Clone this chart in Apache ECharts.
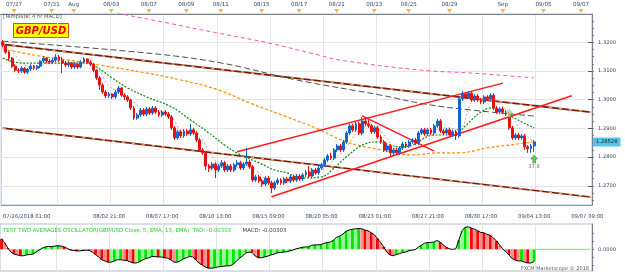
<!DOCTYPE html>
<html>
<head>
<meta charset="utf-8">
<script src="https://cdn.jsdelivr.net/npm/echarts@6/dist/echarts.min.js"></script>
<style>
  html, body { margin: 0; padding: 0; background: #fff; }
  #chart { width: 625px; height: 272px; }
</style>
</head>
<body>
<div id="chart"></div>
<script>
// GBP/USD 4h bars, [open, close, low, high]
var candles = [
  [1.3201,1.3190,1.3183,1.3208],[1.3190,1.3166,1.3159,1.3194],[1.3166,1.3145,1.3135,1.3170],[1.3145,1.3117,1.3110,1.3149],
  [1.3117,1.3103,1.3096,1.3124],[1.3103,1.3100,1.3093,1.3110],[1.3100,1.3110,1.3093,1.3117],[1.3110,1.3096,1.3090,1.3114],
  [1.3096,1.3107,1.3090,1.3110],[1.3107,1.3117,1.3100,1.3124],[1.3117,1.3110,1.3103,1.3121],[1.3110,1.3117,1.3103,1.3121],
  [1.3117,1.3135,1.3110,1.3138],[1.3135,1.3145,1.3128,1.3152],[1.3145,1.3135,1.3128,1.3149],[1.3135,1.3131,1.3124,1.3142],
  [1.3131,1.3138,1.3124,1.3145],[1.3138,1.3149,1.3131,1.3159],[1.3149,1.3138,1.3131,1.3156],[1.3138,1.3128,1.3093,1.3149],
  [1.3128,1.3121,1.3114,1.3135],[1.3121,1.3128,1.3114,1.3135],[1.3128,1.3114,1.3107,1.3131],[1.3114,1.3124,1.3107,1.3131],
  [1.3124,1.3114,1.3107,1.3128],[1.3114,1.3131,1.3110,1.3138],[1.3131,1.3142,1.3128,1.3149],[1.3142,1.3131,1.3124,1.3145],
  [1.3131,1.3124,1.3117,1.3138],[1.3124,1.3103,1.3096,1.3128],[1.3103,1.3076,1.3069,1.3107],[1.3076,1.3051,1.3034,1.3083],
  [1.3051,1.3027,1.3020,1.3058],[1.3027,1.3013,1.3006,1.3034],[1.3013,1.3020,1.3006,1.3027],[1.3020,1.3010,1.3003,1.3023],
  [1.3010,1.3027,1.3003,1.3034],[1.3027,1.3041,1.3020,1.3048],[1.3041,1.3016,1.3010,1.3044],[1.3016,1.3010,1.2999,1.3023],
  [1.3010,1.2999,1.2992,1.3016],[1.2999,1.2971,1.2964,1.3003],[1.2971,1.2936,1.2930,1.2978],[1.2936,1.2947,1.2930,1.2954],
  [1.2947,1.2964,1.2940,1.2971],[1.2964,1.2950,1.2943,1.2971],[1.2950,1.2968,1.2943,1.2975],[1.2968,1.2954,1.2947,1.2975],
  [1.2954,1.2971,1.2947,1.2978],[1.2971,1.2957,1.2950,1.2978],[1.2957,1.2947,1.2940,1.2964],[1.2947,1.2957,1.2940,1.2964],
  [1.2957,1.2950,1.2943,1.2964],[1.2950,1.2940,1.2933,1.2957],[1.2940,1.2902,1.2895,1.2947],[1.2902,1.2867,1.2860,1.2909],
  [1.2867,1.2888,1.2860,1.2895],[1.2888,1.2874,1.2867,1.2895],[1.2874,1.2891,1.2867,1.2898],[1.2891,1.2881,1.2874,1.2898],
  [1.2881,1.2895,1.2874,1.2916],[1.2895,1.2884,1.2877,1.2902],[1.2884,1.2860,1.2853,1.2891],[1.2860,1.2825,1.2818,1.2867],
  [1.2825,1.2815,1.2808,1.2832],[1.2815,1.2769,1.2755,1.2822],[1.2769,1.2762,1.2748,1.2776],[1.2762,1.2776,1.2755,1.2783],
  [1.2776,1.2755,1.2727,1.2783],[1.2755,1.2769,1.2748,1.2776],[1.2769,1.2780,1.2762,1.2790],[1.2780,1.2755,1.2748,1.2787],
  [1.2755,1.2769,1.2748,1.2776],[1.2769,1.2755,1.2748,1.2776],[1.2755,1.2773,1.2748,1.2780],[1.2773,1.2780,1.2766,1.2790],
  [1.2780,1.2762,1.2755,1.2787],[1.2762,1.2776,1.2755,1.2783],[1.2776,1.2783,1.2769,1.2832],[1.2783,1.2766,1.2759,1.2790],
  [1.2766,1.2720,1.2713,1.2773],[1.2720,1.2731,1.2713,1.2738],[1.2731,1.2717,1.2710,1.2738],[1.2717,1.2706,1.2696,1.2724],
  [1.2706,1.2727,1.2699,1.2734],[1.2727,1.2710,1.2703,1.2734],[1.2710,1.2692,1.2675,1.2717],[1.2692,1.2710,1.2685,1.2717],
  [1.2710,1.2720,1.2703,1.2727],[1.2720,1.2710,1.2703,1.2727],[1.2710,1.2724,1.2703,1.2731],[1.2724,1.2717,1.2710,1.2731],
  [1.2717,1.2731,1.2710,1.2738],[1.2731,1.2720,1.2713,1.2738],[1.2720,1.2734,1.2713,1.2741],[1.2734,1.2724,1.2717,1.2741],
  [1.2724,1.2738,1.2717,1.2745],[1.2738,1.2748,1.2731,1.2755],[1.2748,1.2734,1.2727,1.2769],[1.2734,1.2755,1.2727,1.2762],
  [1.2755,1.2745,1.2738,1.2762],[1.2745,1.2762,1.2738,1.2773],[1.2762,1.2773,1.2755,1.2780],[1.2773,1.2790,1.2766,1.2797],
  [1.2790,1.2804,1.2783,1.2811],[1.2804,1.2797,1.2790,1.2815],[1.2797,1.2825,1.2790,1.2832],[1.2825,1.2839,1.2818,1.2846],
  [1.2839,1.2825,1.2818,1.2846],[1.2825,1.2853,1.2818,1.2860],[1.2853,1.2884,1.2846,1.2891],[1.2884,1.2909,1.2877,1.2916],
  [1.2909,1.2895,1.2888,1.2916],[1.2895,1.2916,1.2888,1.2923],[1.2916,1.2884,1.2877,1.2923],[1.2884,1.2926,1.2877,1.2940],
  [1.2926,1.2916,1.2909,1.2936],[1.2916,1.2909,1.2902,1.2930],[1.2909,1.2888,1.2881,1.2916],[1.2888,1.2902,1.2881,1.2909],
  [1.2902,1.2870,1.2863,1.2909],[1.2870,1.2853,1.2846,1.2877],[1.2853,1.2825,1.2818,1.2860],[1.2825,1.2839,1.2818,1.2846],
  [1.2839,1.2815,1.2804,1.2846],[1.2815,1.2825,1.2808,1.2832],[1.2825,1.2815,1.2808,1.2832],[1.2815,1.2832,1.2808,1.2839],
  [1.2832,1.2846,1.2825,1.2853],[1.2846,1.2839,1.2832,1.2853],[1.2839,1.2853,1.2832,1.2860],[1.2853,1.2860,1.2846,1.2867],
  [1.2860,1.2849,1.2842,1.2867],[1.2849,1.2884,1.2842,1.2891],[1.2884,1.2895,1.2877,1.2902],[1.2895,1.2881,1.2874,1.2902],
  [1.2881,1.2895,1.2874,1.2902],[1.2895,1.2884,1.2877,1.2902],[1.2884,1.2909,1.2877,1.2916],[1.2909,1.2926,1.2902,1.2933],
  [1.2926,1.2891,1.2884,1.2933],[1.2891,1.2884,1.2877,1.2898],[1.2884,1.2895,1.2877,1.2902],[1.2895,1.2877,1.2870,1.2902],
  [1.2877,1.2888,1.2870,1.2895],[1.2888,1.2874,1.2860,1.2895],[1.2874,1.3003,1.2867,1.3010],[1.3003,1.3020,1.2996,1.3030],
  [1.3020,1.3010,1.3003,1.3027],[1.3010,1.3023,1.3003,1.3030],[1.3023,1.2999,1.2992,1.3030],[1.2999,1.3013,1.2992,1.3020],
  [1.3013,1.2999,1.2992,1.3020],[1.2999,1.2992,1.2985,1.3006],[1.2992,1.3010,1.2985,1.3016],[1.3010,1.3003,1.2996,1.3016],
  [1.3003,1.3016,1.2996,1.3023],[1.3016,1.2971,1.2964,1.3023],[1.2971,1.2957,1.2950,1.2978],[1.2957,1.2968,1.2950,1.2975],
  [1.2968,1.2957,1.2950,1.2975],[1.2957,1.2950,1.2943,1.2964],[1.2950,1.2902,1.2895,1.2957],[1.2902,1.2867,1.2860,1.2909],
  [1.2867,1.2877,1.2860,1.2884],[1.2877,1.2867,1.2860,1.2884],[1.2867,1.2874,1.2860,1.2881],[1.2874,1.2836,1.2825,1.2881],
  [1.2836,1.2829,1.2815,1.2842],[1.2829,1.2839,1.2815,1.2846],[1.2839,1.2853,1.2818,1.2860]
];

// moving averages, [bar index, price]
var maPink = [[30,1.3317],[38,1.3299],[53,1.3267],[69,1.3232],[85,1.3198],[101,1.3156],[108,1.3138],[134,1.3103],[150,1.3093],[170,1.3076]];
var maGray = [[0,1.3204],[46,1.3163],[70,1.3128],[94,1.3069],[121,1.3016],[135,1.2985],[150,1.2964],[170,1.2943]];
var maOrange = [[0,1.3177],[10,1.3156],[21,1.3138],[31,1.3121],[46,1.3093],[57,1.3069],[69,1.3034],[79,1.2989],[91,1.2940],
  [100,1.2902],[110,1.2853],[121,1.2825],[131,1.2808],[140,1.2815],[146,1.2815],[155,1.2832],[162,1.2842],[170,1.2853]];
var maGreen = [[0,1.3145],[6,1.3128],[13,1.3128],[21,1.3128],[27,1.3128],[30,1.3114],[35,1.3076],[40,1.3041],[46,1.3010],
  [54,1.2975],[60,1.2930],[66,1.2884],[71,1.2842],[76,1.2808],[82,1.2780],[87,1.2755],[91,1.2745],[95,1.2727],[102,1.2731],
  [106,1.2762],[110,1.2801],[115,1.2842],[120,1.2853],[124,1.2842],[127,1.2836],[131,1.2842],[138,1.2877],[144,1.2877],
  [146,1.2888],[150,1.2930],[153,1.2957],[156,1.2971],[159,1.2964],[163,1.2940],[168,1.2912],[170,1.2902]];
var maFast = [[2,1.3187],[6,1.3131],[10,1.3110],[14,1.3128],[18,1.3138],[22,1.3128],[26,1.3128],[30,1.3114],[34,1.3048],
  [38,1.3023],[42,1.2992],[46,1.2950],[50,1.2961],[54,1.2940],[58,1.2884],[62,1.2884],[66,1.2818],[70,1.2769],[74,1.2762],
  [78,1.2773],[82,1.2745],[86,1.2710],[90,1.2710],[94,1.2724],[98,1.2734],[102,1.2755],[106,1.2790],[110,1.2836],[114,1.2895],
  [118,1.2909],[122,1.2877],[126,1.2829],[130,1.2836],[134,1.2863],[138,1.2891],[142,1.2902],[146,1.2895],[150,1.2992],
  [154,1.3006],[158,1.2992],[162,1.2954],[166,1.2891],[170,1.2853]];

// hand-drawn trend lines, [bar index, price]
var brownUpper = [[0,1.3193],[188,1.2957]];
var brownLower = [[0,1.2901],[188,1.2661]];
var redUpper = [[75,1.2819],[160,1.3058]];
var redLower = [[86,1.2662],[182,1.3014]];
var redDown = [[115,1.2944],[138,1.2821]];

var signalPoints = [[162,1.2954],[170,1.2793]];
var signalLabels = ['', '37.8'];
var lastPrice = 1.28526;

// TAO oscillator (5 EMA - 13 EMA)
var osc = [
  0.0026,0.0016,0.0003,-0.0007,-0.0012,-0.0014,-0.0016,-0.0016,-0.0014,-0.0013,
  -0.0012,-0.0007,-0.0002,0.0003,0.0006,0.0007,0.0007,0.0008,0.0009,0.0008,
  0.0006,0.0002,-0.0002,-0.0003,-0.0004,-0.0004,-0.0003,-0.0002,-0.0003,-0.0007,
  -0.0013,-0.0019,-0.0026,-0.0029,-0.0032,-0.0032,-0.0029,-0.0026,-0.0026,-0.0027,
  -0.0028,-0.0031,-0.0034,-0.0034,-0.0031,-0.0027,-0.0023,-0.0021,-0.0018,-0.0018,
  -0.0019,-0.0019,-0.0021,-0.0022,-0.0026,-0.0032,-0.0032,-0.0029,-0.0024,-0.0021,
  -0.0018,-0.0019,-0.0026,-0.0034,-0.0039,-0.0044,-0.0047,-0.0047,-0.0046,-0.0044,
  -0.0043,-0.0042,-0.0041,-0.0041,-0.0037,-0.0029,-0.0022,-0.0016,-0.0009,-0.0007,
  -0.0008,-0.0017,-0.0021,-0.0021,-0.0019,-0.0017,-0.0014,-0.0012,-0.0009,-0.0008,
  -0.0007,-0.0006,-0.0004,-0.0002,0.0001,0.0003,0.0005,0.0006,0.0006,0.0010,
  0.0011,0.0011,0.0012,0.0015,0.0017,0.0018,0.0023,0.0030,0.0033,0.0038,
  0.0045,0.0048,0.0050,0.0051,0.0052,0.0051,0.0048,0.0046,0.0041,0.0036,
  0.0027,0.0017,0.0006,-0.0007,-0.0014,-0.0016,-0.0013,-0.0011,-0.0008,-0.0007,
  -0.0004,-0.0002,-0.0001,0.0005,0.0010,0.0015,0.0017,0.0017,0.0018,0.0022,
  0.0018,0.0011,0.0005,0.0001,0.0000,0.0001,0.0023,0.0046,0.0055,0.0056,
  0.0053,0.0050,0.0046,0.0042,0.0041,0.0037,0.0035,0.0028,0.0021,0.0011,
  0.0001,-0.0006,-0.0014,-0.0023,-0.0027,-0.0029,-0.0029,-0.0032,-0.0034,-0.0034,
  -0.00303
];

// axis labels
var barCount = 189;
var bottomLabelIdx = [0, 34, 51, 68, 85, 102, 119, 136, 153, 170, 187];
var bottomLabels = ['07/26/2018 01:00', '08/02 21:00', '08/07 17:00', '08/10 13:00', '08/15 09:00', '08/20 05:00',
  '08/23 01:00', '08/27 21:00', '08/30 17:00', '09/04 13:00', '09/07 09:00'];
var topLabelIdx = [4, 16, 23, 35, 47, 59, 70, 83, 95, 107, 119, 130, 143, 160, 173, 185];
var topLabels = ['07/27', '07/31', 'Aug', '08/03', '08/07', '08/09', '08/11', '08/15', '08/17', '08/21', '08/23',
  '08/25', '08/29', 'Sep', '09/05', '09/07'];
var priceTicks = [1.27, 1.28, 1.29, 1.30, 1.31, 1.32];
var oscTicks = [-0.004, -0.002, 0, 0.002, 0.004];

var cats = [];
for (var i = 0; i < barCount; i++) cats.push(String(i));
var minorPriceTicks = [];
for (var p = 1.2650; p < 1.3299; p += 0.0025) minorPriceTicks.push(+p.toFixed(4));

var FONT = 'DejaVu Sans';
var LABEL_COLOR = '#3c4660';
var GRID_COLOR = '#e4e4e4';

function majorTick(i) { return i > 1 && i < 188 && (i - 1) % 17 === 0; }

// histogram: green while rising, red while falling
var oscBars = osc.map(function (v, k) {
  var up = k === 0 ? false : v >= osc[k - 1];
  var light = k % 2 === 1;
  var c = up ? (light ? '#8cff8c' : '#00e600') : (light ? '#ff8c8c' : '#ff0000');
  return { value: v, itemStyle: { color: c } };
});

function maLine(data, color, width, dash) {
  return {
    type: 'line', xAxisIndex: 0, yAxisIndex: 0, data: data, smooth: 0.4,
    showSymbol: false, silent: true, z: 3,
    lineStyle: { color: color, width: width, type: dash }
  };
}
function trendLine(data, color, width, dash, z) {
  return {
    type: 'line', xAxisIndex: 0, yAxisIndex: 0, data: data, showSymbol: false, silent: true, z: z || 4,
    lineStyle: { color: color, width: width, type: dash || 'solid' }
  };
}

var chart = echarts.init(document.getElementById('chart'));

var option = {
  backgroundColor: '#ffffff',
  animation: false,
  textStyle: { fontFamily: FONT },
  grid: [
    { left: 0, right: 33, top: 14, height: 191, show: true, borderColor: '#b4bccb', borderWidth: 1 },
    { left: 0, right: 33, top: 9, height: 5 },
    { left: 0, right: 33, top: 224, height: 47, show: true, borderColor: '#b4bccb', borderWidth: 1 }
  ],
  xAxis: [
    {
      gridIndex: 0, type: 'category', data: cats, position: 'bottom', boundaryGap: true,
      axisLine: { lineStyle: { color: '#8e96a8' } },
      axisTick: { interval: majorTick, length: 4, lineStyle: { color: '#555' } },
      axisLabel: {
        interval: function (i) { return bottomLabelIdx.indexOf(i) >= 0; },
        formatter: function (v, i) {
          var k = bottomLabelIdx.indexOf(+v);
          if (k === 0) return '{first|' + bottomLabels[0] + '}';
          return k >= 0 ? bottomLabels[k] : '';
        },
        rich: { first: { fontSize: 5.3, color: LABEL_COLOR, padding: [0, 0, 0, 48] } },
        fontSize: 5.3, color: LABEL_COLOR, margin: 9, hideOverlap: false
      },
      splitLine: { show: true, interval: majorTick, lineStyle: { color: GRID_COLOR, width: 1 } }
    },
    {
      gridIndex: 0, type: 'category', data: cats, position: 'bottom', boundaryGap: true,
      axisLine: { show: false },
      axisTick: { interval: 3, length: 2, lineStyle: { color: '#999' } },
      axisLabel: { show: false }, splitLine: { show: false }
    },
    {
      gridIndex: 1, type: 'category', data: cats, position: 'top', boundaryGap: true,
      axisLine: { lineStyle: { color: '#7a8292' } },
      axisTick: { inside: true, interval: 1, length: 2, lineStyle: { color: '#999' } },
      axisLabel: {
        interval: function (i) { return topLabelIdx.indexOf(i) >= 0; },
        formatter: function (v) { var k = topLabelIdx.indexOf(+v); return k >= 0 ? topLabels[k] : ''; },
        fontSize: 5.6, color: LABEL_COLOR, margin: 1, hideOverlap: false
      },
      splitLine: { show: false }
    },
    {
      gridIndex: 2, type: 'category', data: cats, boundaryGap: true,
      axisLine: { show: false }, axisTick: { show: false }, axisLabel: { show: false },
      splitLine: { show: true, interval: majorTick, lineStyle: { color: GRID_COLOR, width: 1 } }
    }
  ],
  yAxis: [
    {
      gridIndex: 0, type: 'value', position: 'right', min: 1.2633, max: 1.3299, splitNumber: 5,
      axisLine: { show: true, lineStyle: { color: '#7a8292' } },
      axisTick: { show: true, inside: true, length: 4, customValues: priceTicks, lineStyle: { color: '#555' } },
      axisLabel: {
        customValues: priceTicks, formatter: function (v) { return v.toFixed(4); },
        fontSize: 5.2, color: LABEL_COLOR, margin: 6
      },
      splitLine: { show: true, lineStyle: { color: GRID_COLOR, width: 1 } }
    },
    {
      gridIndex: 0, type: 'value', position: 'right', min: 1.2633, max: 1.3299,
      axisLine: { show: false },
      axisTick: { show: true, length: 2, customValues: minorPriceTicks, lineStyle: { color: '#777' } },
      axisLabel: { show: false }, splitLine: { show: false }
    },
    {
      // current price badge
      gridIndex: 0, type: 'value', position: 'right', min: 1.2633, max: 1.3299,
      axisLine: { show: false }, axisTick: { show: false }, splitLine: { show: false },
      axisLabel: {
        customValues: [lastPrice], formatter: function (v) { return v.toFixed(5); },
        fontSize: 5.2, color: '#10202a', backgroundColor: '#56c6f0', padding: [2, 3, 2, 3], margin: 1
      }
    },
    { gridIndex: 1, type: 'value', min: 0, max: 1, show: false },
    {
      gridIndex: 2, type: 'value', position: 'right', min: -0.0054, max: 0.0063,
      axisLine: { show: true, lineStyle: { color: '#7a8292' } },
      axisTick: { show: true, length: 2, customValues: oscTicks, lineStyle: { color: '#777' } },
      axisLabel: {
        customValues: [0], formatter: function () { return '0.0000'; },
        fontSize: 5.2, color: LABEL_COLOR, margin: 6
      },
      splitLine: { show: false }
    }
  ],
  series: [
    trendLine(brownUpper, '#7d1800', 1.6, 'solid', 2),
    trendLine(brownUpper, '#d6a47e', 1.6, [3, 7], 2),
    trendLine(brownLower, '#7d1800', 1.6, 'solid', 2),
    trendLine(brownLower, '#d6a47e', 1.6, [3, 7], 2),
    maLine(maPink, '#ff50b4', 1, [4, 3]),
    maLine(maGray, '#505050', 1, [6, 3]),
    maLine(maOrange, '#ff8a00', 1.2, [3, 2]),
    maLine(maGreen, '#0a8a0a', 1.2, [2, 1.5]),
    maLine(maFast, '#bc8a8a', 0.8, [2, 2]),
    {
      type: 'candlestick', xAxisIndex: 0, yAxisIndex: 0, data: candles, barWidth: 2.4, z: 5,
      itemStyle: { color: '#1565d0', color0: '#e81010', borderColor: '#1565d0', borderColor0: '#e81010', borderWidth: 1 }
    },
    trendLine(redUpper, '#ff1a1a', 1.5),
    trendLine(redLower, '#ff1a1a', 1.5),
    trendLine(redDown, '#ff1a1a', 1.5),
    {
      type: 'scatter', xAxisIndex: 0, yAxisIndex: 0, z: 8, silent: true,
      symbol: 'path://M4,0 L8,4 L5.5,4 L5.5,8 L2.5,8 L2.5,4 L0,4 Z', symbolSize: [7, 8],
      data: signalPoints.map(function (pt, k) {
        return {
          value: pt,
          itemStyle: k === 0 ? { color: '#9be39b', borderColor: '#7cc47c', borderWidth: 0.5 }
                             : { color: '#3cc43c', borderColor: '#1f7f1f', borderWidth: 0.6 },
          label: { show: !!signalLabels[k], formatter: signalLabels[k], position: 'bottom', distance: 1,
                   fontSize: 5, color: '#404040' }
        };
      })
    },
    {
      type: 'scatter', xAxisIndex: 2, yAxisIndex: 3, silent: true, z: 6,
      symbol: 'triangle', symbolRotate: 180, symbolSize: [5, 4],
      itemStyle: { color: '#f5a020' },
      data: topLabelIdx.map(function (k) { return [k, 0.6]; })
    },
    {
      type: 'bar', xAxisIndex: 3, yAxisIndex: 4, data: oscBars, barCategoryGap: '8%', silent: true, z: 2
    },
    {
      type: 'line', xAxisIndex: 3, yAxisIndex: 4, data: osc, showSymbol: false, silent: true, z: 3,
      lineStyle: { color: '#000', width: 1 }
    },
    {
      type: 'line', xAxisIndex: 3, yAxisIndex: 4, data: [[osc.length - 1, 0], [barCount - 1, 0]],
      showSymbol: false, silent: true, z: 3, lineStyle: { color: '#70f070', width: 1 }
    }
  ],
  graphic: [
    {
      type: 'text', left: 3, top: 14, z: 20,
      style: { text: '[Template: 4 hr MACD]', fontSize: 5.2, fill: '#505050', fontFamily: FONT }
    },
    {
      type: 'group', left: 13, top: 23, z: 20,
      children: [
        { type: 'rect', shape: { x: 0, y: 0, width: 55, height: 14 },
          style: { fill: '#ffff00', stroke: '#e04a1a', lineWidth: 1 } },
        { type: 'text', x: 27.5, y: 7.5,
          style: { text: 'GBP/USD', fill: '#ee0000', fontSize: 10, fontWeight: 'bold', fontStyle: 'italic',
                   fontFamily: FONT, align: 'center', verticalAlign: 'middle' } }
      ]
    },
    {
      type: 'text', left: 3, top: 225, z: 20,
      style: {
        text: '{g|TEST TWO AVERAGES OSCILLATOR(GBP/USD.Close, 5, EMA, 13, EMA)  TAO: ' +
              osc[osc.length - 1].toFixed(5) + '}   {k|MACD: ' + osc[osc.length - 1].toFixed(5) + '}',
        fontFamily: FONT,
        rich: {
          g: { fill: '#2ccc2c', fontSize: 5.4, fontFamily: FONT },
          k: { fill: '#404040', fontSize: 5.4, fontFamily: FONT }
        }
      }
    },
    {
      type: 'text', right: 36, top: 266, z: 20,
      style: { text: 'FXCM Marketscope \u00a9 2018', fontSize: 5, fill: '#606060', fontFamily: FONT }
    }
  ]
};

chart.setOption(option);
</script>
</body>
</html>
